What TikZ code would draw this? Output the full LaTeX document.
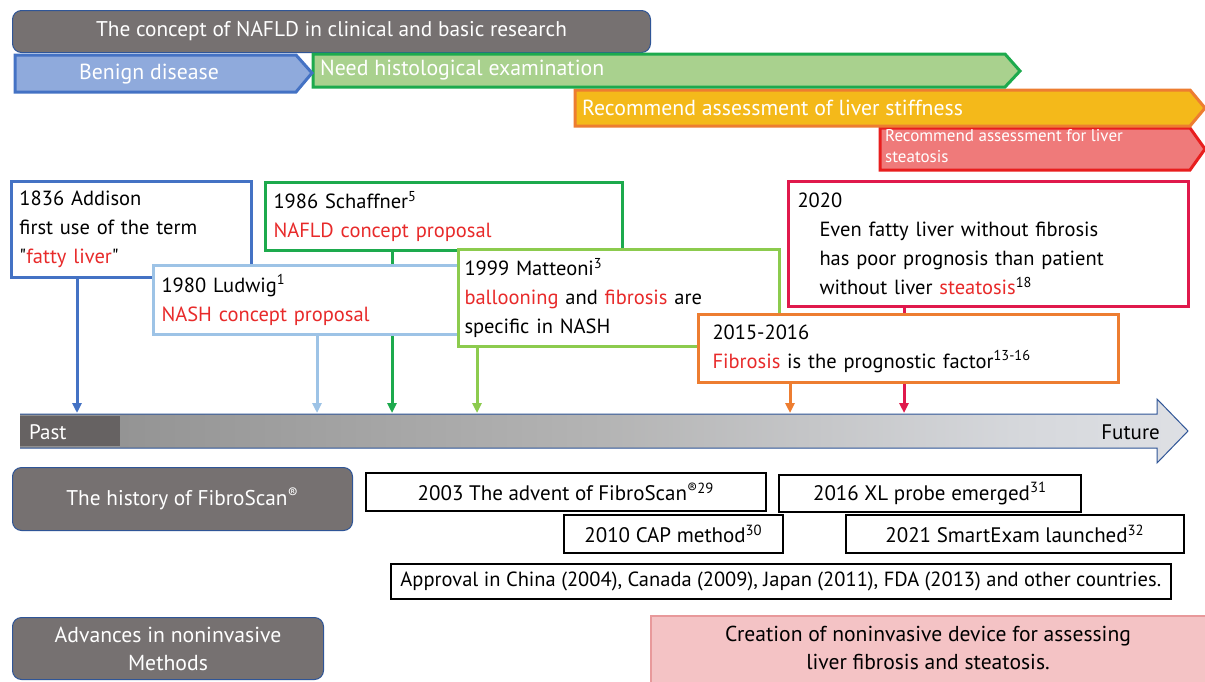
\documentclass[tikz,border=0pt]{standalone}
\usepackage{fontspec}
\setmainfont{PT Sans}
\newfontfamily\qfont{PT Sans}
\usetikzlibrary{arrows.meta}
\pgfdeclarelayer{bg}
\pgfdeclarelayer{bgw}
\pgfsetlayers{bgw,bg,main}
\definecolor{cgray}{HTML}{767171}
\definecolor{cnavy}{HTML}{2F5597}
\definecolor{cblue}{HTML}{4472C4}
\definecolor{cbluef}{HTML}{8FAADC}
\definecolor{cgreen}{HTML}{1DAA4D}
\definecolor{cgreenf}{HTML}{A9D18E}
\definecolor{cgold}{HTML}{F4B91A}
\definecolor{corange}{HTML}{ED7D31}
\definecolor{cred}{HTML}{E81E1E}
\definecolor{credf}{HTML}{EF7A7A}
\definecolor{clblue}{HTML}{9DC3E6}
\definecolor{clgreen}{HTML}{8CCB4E}
\definecolor{ccrim}{HTML}{E0194C}
\definecolor{ctext}{HTML}{E82A2A}
\definecolor{cpink}{HTML}{F4C3C5}
\definecolor{cpinkb}{HTML}{E8999B}
\definecolor{tl0}{HTML}{716D6D}
\definecolor{tl1}{HTML}{959595}
\definecolor{tl2}{HTML}{B4B4B4}
\definecolor{tl3}{HTML}{D6D8DC}
\definecolor{tl4}{HTML}{E9EBF0}
\definecolor{tl5}{HTML}{F2F4F8}
\pgfdeclarehorizontalshading{tlshade}{100bp}{color(0bp)=(tl0); color(30bp)=(tl1); color(50bp)=(tl2); color(68bp)=(tl3); color(85bp)=(tl4); color(100bp)=(tl5)}
\newcommand\fsz[2]{\fontsize{#1}{#2}\selectfont}
\newcommand\rt[1]{\textcolor{ctext}{#1}}
\newcommand\dq{{\qfont\symbol{34}}}
\begin{document}
\begin{tikzpicture}[x=1pt,y=-1pt,
  evbox/.style={draw, line width=3pt, fill=white, anchor=north west, align=left,
    inner xsep=8pt, inner ysep=0pt, font=\fsz{20.5}{29}},
  fsbox/.style={draw=black, line width=1.6pt, fill=white, anchor=north west, align=center,
    inner sep=0pt, font=\fsz{21}{25}},
  graybox/.style={draw=cnavy, line width=1pt, fill=cgray, rounded corners=9pt, anchor=north west,
    align=center, inner sep=0pt, text=white},
  band/.style={line width=3pt, line join=miter},
  bandtext/.style={text=white, inner sep=0pt, font=\fsz{21.8}{25}},
  conn/.style={line width=3pt, -{Triangle[length=10pt,width=9pt]}}]
\useasboundingbox (0,0) rectangle (1205,681);
\clip (0,0) rectangle (1205,681);
\begin{pgfonlayer}{bgw}
\fill[white] (0,0) rectangle (1205,681);
\end{pgfonlayer}

% title
\node[graybox, minimum width=638pt, minimum height=42pt, font=\fsz{21.3}{26}] (title) at (12,10)
  {The concept of NAFLD in clinical and basic research};

% bands
\draw[band, draw=cred, fill=credf] (880,128) -- (1190,128) -- (1205,149) -- (1190,170) -- (880,170) -- cycle;
\node[bandtext, anchor=north west, align=left, font=\fsz{17}{21}] (steat) at (885,129)
  {Recommend assessment for liver\\steatosis};
\draw[band, draw=corange, fill=cgold] (575,90) -- (1190,90) -- (1205,108) -- (1190,126) -- (575,126) -- cycle;
\node[bandtext, anchor=west] (stiff) at (582,108) {Recommend assessment of liver stiffness};
\draw[band, draw=cgreen, fill=cgreenf] (313,54) -- (1005,54) -- (1020,71) -- (1005,87) -- (313,87) -- cycle;
\node[bandtext, anchor=west] (histo) at (320,70) {Need histological examination};
\draw[band, draw=cblue, fill=cbluef] (15,55) -- (296,55) -- (312,73) -- (296,92) -- (15,92) -- cycle;
\node[bandtext] (benign) at (149,74) {Benign disease};

% timeline
\shade[shading=tlshade] (20,414) -- (1157,414) -- (1157,399) -- (1188,431) -- (1157,463) -- (1157,448) -- (20,448) -- cycle;
\fill[tl0!90!black] (20,416) rectangle (120,446);
\draw[cnavy, line width=1pt] (20,414) -- (1157,414) -- (1157,399) -- (1188,431) -- (1157,463) -- (1157,448) -- (20,448);
\node[text=white, anchor=west, inner sep=0pt, font=\fsz{21}{24}] (past) at (29,432) {Past};
\node[text=black, anchor=east, inner sep=0pt, font=\fsz{21}{24}] (future) at (1160,432) {Future};

\coordinate (t1) at (77,413);
\coordinate (t2) at (317,413);
\coordinate (t3) at (392,413);
\coordinate (t4) at (477,413);
\coordinate (t5) at (790,413);
\coordinate (t6) at (904,413);

% event boxes
\node[evbox, draw=cblue, minimum width=240pt, minimum height=96pt, text width=224pt] (addison) at (10,180)
  {1836 Addison\\first use of the term\\\dq\rt{fatty liver}\dq};
\node[evbox, draw=cgreen, minimum width=357pt, minimum height=68pt, text width=341pt] (schaff) at (264,181)
  {1986 Schaffner\textsuperscript{5}\\\rt{NAFLD concept proposal}};
\node[evbox, draw=clblue, minimum width=308pt, minimum height=69pt, text width=292pt] (ludwig) at (152,264)
  {1980 Ludwig\textsuperscript{1}\\\rt{NASH concept proposal}};
\node[evbox, draw=clgreen, minimum width=321pt, minimum height=97pt, text width=309pt, inner xsep=6pt] (matt) at (457,248)
  {1999 Matteoni\textsuperscript{3}\\\rt{ballooning} and \rt{fibrosis} are\\specific in NASH};
\node[evbox, draw=ccrim, minimum width=400pt, minimum height=125pt, text width=382pt, inner xsep=9pt] (y2020) at (787,180)
  {2020\\\hspace*{22pt}Even fatty liver without fibrosis\\\hspace*{22pt}has poor prognosis than patient\\\hspace*{22pt}without liver \rt{steatosis}\textsuperscript{18}};
\node[evbox, draw=corange, minimum width=420pt, minimum height=68pt, text width=392pt, inner xsep=14pt] (y2015) at (697,313)
  {2015-2016\\\rt{Fibrosis} is the prognostic factor\textsuperscript{13-16}};

\begin{pgfonlayer}{bg}
\draw[conn, draw=cblue] (addison.south -| t1) -- (t1);
\draw[conn, draw=clblue] (ludwig.south -| t2) -- (t2);
\draw[conn, draw=cgreen] (schaff.south -| t3) -- (t3);
\draw[conn, draw=clgreen] (matt.south -| t4) -- (t4);
\draw[conn, draw=corange] (y2015.south -| t5) -- (t5);
\draw[conn, draw=ccrim] (y2020.south -| t6) -- (t6);
\end{pgfonlayer}

% FibroScan history
\node[graybox, minimum width=340pt, minimum height=63pt, font=\fsz{21.3}{25}] (hist) at (12,467)
  {The history of FibroScan\textsuperscript{®}};
\node[fsbox, minimum width=400pt, minimum height=38pt] (f2003) at (365,472)
  {2003 The advent of FibroScan\textsuperscript{®29}};
\node[fsbox, minimum width=302pt, minimum height=37pt] (f2016) at (778,474)
  {2016 XL probe emerged\textsuperscript{31}};
\node[fsbox, minimum width=219pt, minimum height=38pt] (f2010) at (563,514)
  {2010 CAP method\textsuperscript{30}};
\node[fsbox, minimum width=338pt, minimum height=38pt] (f2021) at (845,514)
  {2021 SmartExam launched\textsuperscript{32}};
\node[fsbox, minimum width=780pt, minimum height=35pt, font=\fsz{20.5}{24}] (appr) at (390,563)
  {Approval in China (2004), Canada (2009), Japan (2011), FDA (2013) and other countries.};

% bottom
\node[graybox, minimum width=311pt, minimum height=62pt, font=\fsz{21.7}{28}] (adv) at (12,617)
  {Advances in noninvasive\\Methods};
\node[draw=cpinkb, line width=2pt, fill=cpink, anchor=north west, minimum width=560pt, minimum height=75pt,
  inner sep=0pt] (pink) at (650,615) {};
\node[align=center, inner sep=0pt, font=\fsz{21.6}{28}, anchor=center] (pinktext) at (928,648)
  {Creation of noninvasive device for assessing\\liver fibrosis and steatosis.};
\end{tikzpicture}
\end{document}
